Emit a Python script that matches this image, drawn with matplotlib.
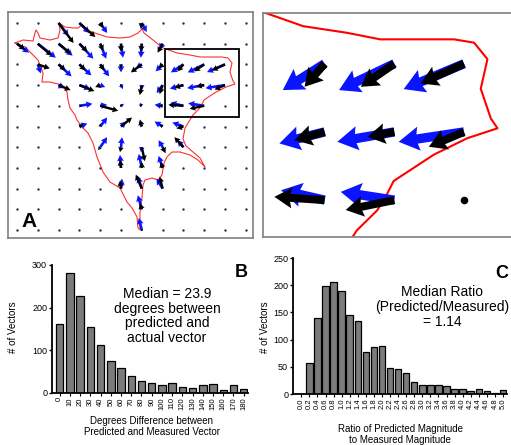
import matplotlib
matplotlib.use('Agg')
import matplotlib.pyplot as plt
import numpy as np
from matplotlib.path import Path
from matplotlib.patches import Rectangle

plt.rcParams['font.family'] = ['Liberation Sans', 'DejaVu Sans']

# ---------------- panel A / zoom: traction vectors on a grid ----------------
# grid index of each vector (column, row from top)
vec_col = [2, 3, 4, 6,
           0, 1, 2, 3, 4, 5, 6, 7,
           1, 2, 3, 4, 5, 6, 7, 8, 9, 10,
           2, 3, 4, 5, 6, 7, 8, 9, 10,
           3, 4, 5, 6, 7, 8, 9,
           3, 4, 5, 6, 7, 8,
           4, 5, 6, 7, 8,
           5, 6, 7,
           5, 6, 7,
           6,
           6]
vec_row = [0, 0, 0, 0,
           1, 1, 1, 1, 1, 1, 1, 1,
           2, 2, 2, 2, 2, 2, 2, 2, 2, 2,
           3, 3, 3, 3, 3, 3, 3, 3, 3,
           4, 4, 4, 4, 4, 4, 4,
           5, 5, 5, 5, 5, 5,
           6, 6, 6, 6, 6,
           7, 7, 7,
           8, 8, 8,
           9,
           10]
# predicted (blue) and measured (black) vectors, pixels (u right, v down)
blue_u = [10, 10, 7, 5,
          12, 18, 14, 14, 6, 2, -1, -3,
          3, 13, 12, 9, 0, -6, -7, -12.5, -16.5, -18,
          6, 11, 5, 2, 0, -6, -13.5, -17, -19.5,
          13, 7, 3, -2, -8, -13, -16,
          8, 7, 5, -2, -8, -11,
          7, 1, -1, -4, -6,
          -1, -3, -4,
          1, -4, -6,
          -4,
          -3]
blue_v = [13, 10, 10, 9,
          9, 14, 12, 15, 15, 14, 14, 6,
          9, 12, 11, 12, 8, 4, 7, 8, 8, 7.7,
          3, 4, 2, 4, 5, 8, 3.5, 3, 3,
          -2, -1, -2, -3, -1, -3, -2.5,
          -3, -9, -5, -3, -5, -4,
          -10, -10, 5, -7, -7,
          -13, -14, -12,
          -10, -12, -10,
          -14,
          -12]
black_u = [15, 16, 3, -1,
           8, 14, 12, 8, 3, 0, -1, -5,
           12, 7, 6, 4, 0, -11, -4, -6, -10, -13,
           12, 15, -5, 1, -2, -3, -9, -8, -10.5,
           3, 18, 2, -3, -4, -15, -14.5,
           4, 0, 11, -2, -3, -7,
           -2, -1, 3, 3, -9,
           -1, 0, -2,
           -1, -6, -3,
           -2,
           -1]
black_v = [20, 14, 5, 6,
           6, 12, 10, 8, 7, 8, 8, 9,
           4, 6, 6, 6, 4, 8, 4, 7, 7, 6,
           5, 6, 2, 2, 10, 9, 2.5, 1.5, 4.5,
           0, 5, 0, -1, 0, -1, 3,
           -2, -3, -9, -7, -2, 2,
           3, 5, 14, 6, -10,
           -8, -6, -6,
           -8, -14, -12,
           -6,
           2]

# cell outline (pixels in panel A)
outline_x = [15, 23, 33, 35, 36, 38, 40, 50, 58, 60, 59, 65, 73, 78, 82, 85, 95,
             107, 120, 130, 138, 142, 144, 153, 163, 177, 190, 200, 212, 222, 228,
             232, 230, 233, 235, 226, 216, 204, 201, 199, 193, 188, 185, 183, 186,
             193, 200, 205, 198, 190, 180, 172, 167, 164, 162, 158, 152, 145, 143,
             142, 140, 140, 138, 137, 132, 127, 120, 110, 103, 97, 93, 88, 82, 77,
             75, 70, 68, 67, 62, 50, 42, 43, 38, 25, 15]
outline_y = [43, 40, 41, 33, 30, 33, 38, 40, 38, 30, 23, 27, 28, 28, 25, 30, 33,
             37, 38, 37, 33, 29, 33, 40, 48, 53, 55, 57, 57, 57, 58,
             63, 72, 81, 84, 87, 92, 100, 106, 109, 115, 123, 128, 139, 146,
             152, 158, 167, 160, 155, 152, 152, 157, 163, 175, 180, 178, 180, 185,
             198, 212, 230, 228, 217, 208, 202, 188, 182, 172, 157, 143, 133, 127, 120,
             115, 108, 100, 92, 85, 82, 82, 73, 60, 47, 43]

n_cols, n_rows = 12, 11
GX0, GDX = 17, 20.8
GY0, GDY = 23, 20.7
INSET = (165, 49, 74, 68)

# ---------------- panel B / C histograms ----------------
deg_labels = [str(d) for d in range(0, 190, 10)]
deg_counts = [162, 281, 228, 154, 113, 76, 58, 39, 27, 23, 19, 23, 14, 12, 19, 22, 6, 19, 9]

ratio_labels = ['%.1f' % (i * 0.2) for i in range(26)]
ratio_counts = [0, 57, 140, 199, 205, 190, 146, 135, 78, 86, 88, 48, 46, 39, 22,
                16, 16, 17, 15, 9, 9, 6, 9, 5, 2, 7]

W, H = 511, 445
fig = plt.figure(figsize=(W / 100, H / 100), dpi=100)


def px_axes(x0, y0, x1, y1):
    return fig.add_axes([x0 / W, 1 - y1 / H, (x1 - x0) / W, (y1 - y0) / H])


vx = np.array([GX0 + GDX * c for c in vec_col])
vy = np.array([GY0 + GDY * r for r in vec_row])
kw = dict(angles='xy', scale_units='xy', scale=1, units='xy', pivot='tail')

# panel A
axA = px_axes(8, 12, 253, 238)
axA.set_xlim(8, 253)
axA.set_ylim(238, 12)
path = Path(np.column_stack([outline_x, outline_y]))
used = set(zip(vec_col, vec_row))
dots_x, dots_y = [], []
for c in range(n_cols):
    for r in range(n_rows):
        px, py = GX0 + GDX * c, GY0 + GDY * r
        if (c, r) in used or path.contains_point((px, py)):
            continue
        dots_x.append(px)
        dots_y.append(py)
axA.scatter(dots_x, dots_y, s=3, color='#2a2a66', lw=0, zorder=2)
axA.plot(outline_x, outline_y, color='#ff3030', lw=0.8, zorder=1)
axA.quiver(vx, vy, blue_u, blue_v, color='#0a14ff', width=2.6, headwidth=2.6,
           headlength=2.4, headaxislength=2.2, zorder=2, **kw)
axA.quiver(vx, vy, black_u, black_v, color='black', width=2.4, headwidth=2.6,
           headlength=2.4, headaxislength=2.2, zorder=3, **kw)
axA.add_patch(Rectangle(INSET[:2], INSET[2], INSET[3], fill=False, ec='black', lw=1.3, zorder=4))
axA.text(21, 227, 'A', fontsize=15, fontweight='bold', ha='left', va='baseline')

# zoomed panel
axZ = px_axes(263, 13, 513, 237)
axZ.set_xlim(165, 165 + 250 / 3.35)
axZ.set_ylim(117, 49)
axZ.plot(outline_x, outline_y, color='red', lw=1.5, zorder=1)
axZ.quiver(vx, vy, blue_u, blue_v, color='#0a14ff', width=2.8, headwidth=2.6,
           headlength=2.2, headaxislength=2.0, zorder=2, **kw)
axZ.quiver(vx, vy, black_u, black_v, color='black', width=2.4, headwidth=2.6,
           headlength=2.2, headaxislength=2.0, zorder=3, **kw)
axZ.scatter(dots_x, dots_y, s=30, color='black', lw=0, zorder=3)

for ax in (axA, axZ):
    ax.set_xticks([])
    ax.set_yticks([])
    for s in ax.spines.values():
        s.set_color('#808080')
        s.set_linewidth(1.2)


def hist_panel(ax, labels, counts, width, ymax, ystep, xlim):
    x = np.arange(len(counts))
    ax.bar(x, counts, width=width, color='#7b7b7b', edgecolor='black', lw=0.9)
    ax.set_xlim(*xlim)
    ax.set_ylim(0, ymax)
    ax.set_yticks(np.arange(0, ymax + 1, ystep))
    ax.set_xticks(x)
    ax.set_xticklabels(labels, rotation=90, fontsize=5.5)
    ax.tick_params(axis='y', labelsize=6.5, length=2.5, width=1, pad=1)
    ax.tick_params(axis='x', length=2, width=0.8, pad=1)
    for s in ('top', 'right'):
        ax.spines[s].set_visible(False)
    for s in ('left', 'bottom'):
        ax.spines[s].set_linewidth(1.3)


axB = px_axes(52, 265, 248, 393)
hist_panel(axB, deg_labels, deg_counts, 0.73, 300, 100, (-0.75, 18.42))
axC = px_axes(293, 258, 507, 394)
hist_panel(axC, ratio_labels, ratio_counts, 0.8, 250, 50, (-1.03, 25.5))

fig.text(13 / W, 1 - 327 / H, '# of Vectors', rotation=90, fontsize=7, ha='center', va='center')
fig.text(265 / W, 1 - 327 / H, '# of Vectors', rotation=90, fontsize=7, ha='center', va='center')
fig.text(152 / W, 1 - 426.5 / H, 'Degrees Difference between\nPredicted and Measured Vector',
         fontsize=7, ha='center', va='center', linespacing=1.15)
fig.text(400 / W, 1 - 434.5 / H, 'Ratio of Predicted Magnitude\nto Measured Magnitude',
         fontsize=7, ha='center', va='center', linespacing=1.1)
fig.text(167 / W, 1 - 316 / H, 'Median = 23.9\ndegrees between\npredicted and\nactual vector',
         fontsize=10, ha='center', va='center', linespacing=1.08)
fig.text(442 / W, 1 - 307 / H, 'Median Ratio\n(Predicted/Measured)\n= 1.14',
         fontsize=10, ha='center', va='center', linespacing=1.08)
fig.text(248 / W, 1 - 277 / H, 'B', fontsize=13, fontweight='bold', ha='right', va='baseline')
fig.text(508 / W, 1 - 278 / H, 'C', fontsize=13, fontweight='bold', ha='right', va='baseline')

fig.savefig('out.png', dpi=100)
